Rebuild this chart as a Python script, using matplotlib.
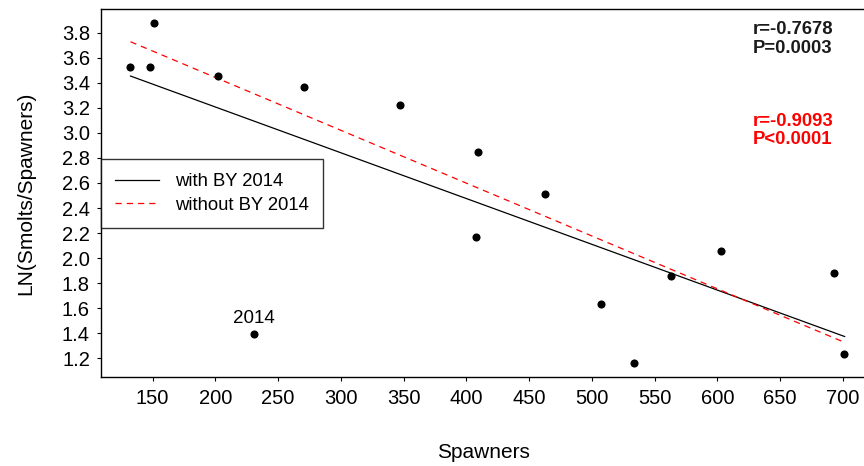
import matplotlib
matplotlib.use("Agg")
import matplotlib.pyplot as plt

# data
spawners = [132, 148, 151, 202, 271, 347, 409, 463, 408, 507, 534, 563, 603, 693, 701, 231]
ln_ratio = [3.53, 3.53, 3.875, 3.454, 3.366, 3.22, 2.847, 2.514, 2.166, 1.633, 1.163, 1.857, 2.055, 1.881, 1.237, 1.396]

# fitted lines (end points)
fit_x = [132.4, 701.5]
fit_with = [3.454, 1.374]
fit_without = [3.728, 1.327]

xticks = list(range(150, 701, 50))
yticks = [1.2, 1.4, 1.6, 1.8, 2.0, 2.2, 2.4, 2.6, 2.8, 3.0, 3.2, 3.4, 3.6, 3.8]

plt.rcParams['font.family'] = ['Liberation Sans', 'DejaVu Sans']

fig = plt.figure(figsize=(8.64, 4.66), dpi=100)
ax = fig.add_axes([0.1169, 0.1916, 0.8861, 0.789])

ax.scatter(spawners, ln_ratio, s=34, color='black', zorder=3, linewidths=0)
l1, = ax.plot(fit_x, fit_with, color='black', linewidth=0.9, label='with BY 2014')
l2, = ax.plot(fit_x, fit_without, color='red', linewidth=0.9, linestyle=(0, (5, 4)),
              label='without BY 2014')

ax.annotate('2014', (spawners[-1], ln_ratio[-1]), xytext=(0, 5), textcoords='offset points',
            ha='center', va='bottom', fontsize=13.5)

ax.text(0.8715, 0.9167, 'r=-0.7678\nP=0.0003', transform=fig.transFigure, fontsize=13.3,
        fontweight='bold', color='#1a1a1a', va='center', ha='left', linespacing=1.12)
ax.text(0.8715, 0.720, 'r=-0.9093\nP<0.0001', transform=fig.transFigure, fontsize=13.3,
        fontweight='bold', color='red', va='center', ha='left', linespacing=1.05)

ax.set_xlim(108.9, 719)
ax.set_ylim(1.053, 3.989)
ax.set_xticks(xticks)
ax.set_yticks(yticks)
ax.set_yticklabels(['%.1f' % v for v in yticks])
ax.tick_params(axis='both', length=3, width=0.8, labelsize=14.5)
ax.tick_params(axis='x', pad=6)
ax.tick_params(axis='y', pad=5)
for s in ax.spines.values():
    s.set_linewidth(1.0)

ax.set_xlabel('Spawners', fontsize=15, labelpad=25)
ax.set_ylabel('LN(Smolts/Spawners)', fontsize=15, labelpad=19)

leg = ax.legend(handles=[l1, l2], loc='upper left', bbox_to_anchor=(0.0, 0.591),
                fontsize=13.3, frameon=True, fancybox=False, borderaxespad=0,
                handlelength=2.4, handletextpad=0.85, borderpad=0.75, labelspacing=0.35)
leg.get_frame().set_edgecolor('black')
leg.get_frame().set_linewidth(1.0)

fig.savefig('out.png', dpi=100)
